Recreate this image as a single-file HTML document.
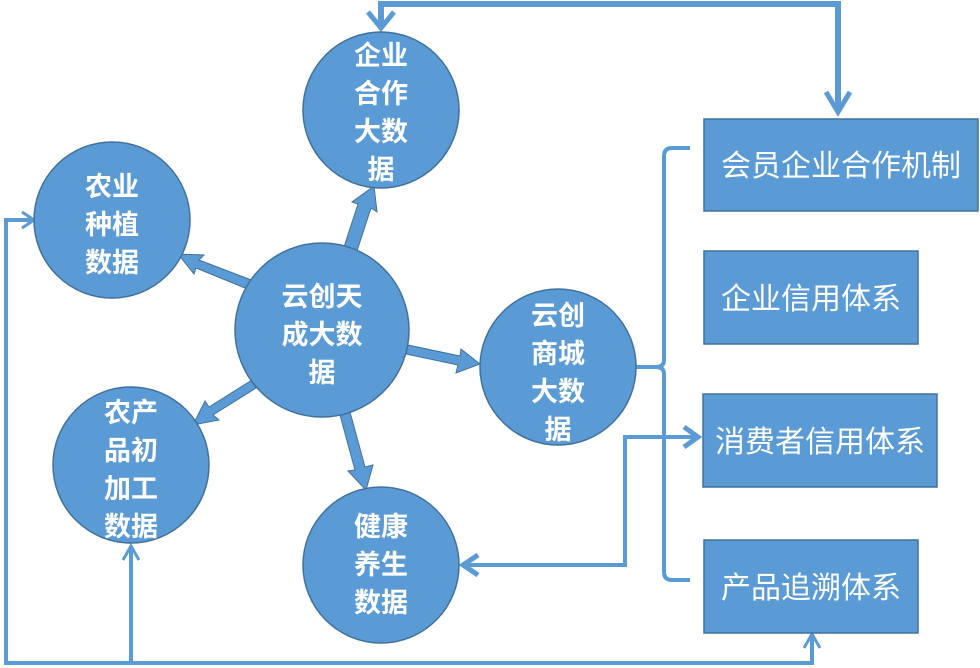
<!DOCTYPE html>
<html><head><meta charset="utf-8"><style>
body{margin:0;background:#fff;}
svg{display:block;}
text{font-family:"Liberation Sans","Noto Sans CJK SC",sans-serif;fill:#fff;}
.c{font-size:27px;font-weight:bold;text-anchor:middle;}
.r{font-size:30px;text-anchor:middle;}
</style></head><body>
<svg width="980" height="668" viewBox="0 0 980 668">
<g fill="none" stroke="#5b9bd5" stroke-width="4" stroke-linejoin="miter">
<polyline points="381,28 381,4 838,4 838,112" stroke-width="6"/>
<polyline points="368,12 381,28 394,12" stroke-width="5"/>
<polyline points="826,92 838,112 850,92" stroke-width="5"/>
<polyline points="34,220 6,220 6,663 812,663 812,636"/>
<polyline points="22,212 34,220 22,228" stroke-width="3"/>
<polyline points="804,648 812,634 820,648" stroke-width="3"/>
<polyline points="131,663 131,546"/>
<polyline points="123,560 131,546 139,560" stroke-width="3"/>
<polyline points="463,565 625,565 625,437 698,437"/>
<polyline points="478,555 463,565 478,575" stroke-width="5"/>
<polyline points="684,427 698,437 684,447" stroke-width="5"/>
<path d="M690,148 L672,148 Q664,148 664,156 L664,360 Q664,367 656,367 L636,367 M656,367 Q664,367 664,374 L664,572 Q664,580 672,580 L690,580"/>
</g>
<g fill="#5b9bd5" stroke="#41719c" stroke-width="1">
<polygon points="343,250 358,204 352,202 374,186 377,212 371,208 356,254"/>
<polygon points="250,290 196,268 194,274 178,254 204,255 199,260 254,281"/>
<polygon points="408,345 460,356 461,349 480,364 456,373 458,365 406,354"/>
<polygon points="252,380 209,407 205,401 193,425 219,420 213,415 256,388"/>
<polygon points="340,415 355,470 348,471 366,490 373,465 365,467 350,412"/>
</g>
<g fill="#5b9bd5" stroke="#41719c" stroke-width="1.5">
<circle cx="381" cy="110" r="78"/>
<circle cx="112" cy="220" r="78"/>
<circle cx="322" cy="330" r="87"/>
<circle cx="558" cy="367" r="78"/>
<circle cx="131" cy="465" r="78"/>
<circle cx="381" cy="565" r="78"/>
<rect x="704" y="119" width="274" height="92"/>
<rect x="704" y="251" width="214" height="93"/>
<rect x="703" y="394" width="234" height="93"/>
<rect x="704" y="540" width="214" height="93"/>
</g>
<text class="c" x="381" y="65">企业</text>
<text class="c" x="381" y="103">合作</text>
<text class="c" x="381" y="141">大数</text>
<text class="c" x="381" y="179">据</text>
<text class="c" x="112" y="196">农业</text>
<text class="c" x="112" y="234">种植</text>
<text class="c" x="112" y="272">数据</text>
<text class="c" x="322" y="306">云创天</text>
<text class="c" x="322" y="344">成大数</text>
<text class="c" x="322" y="382">据</text>
<text class="c" x="558" y="325">云创</text>
<text class="c" x="558" y="363">商城</text>
<text class="c" x="558" y="401">大数</text>
<text class="c" x="558" y="439">据</text>
<text class="c" x="131" y="422">农产</text>
<text class="c" x="131" y="460">品初</text>
<text class="c" x="131" y="498">加工</text>
<text class="c" x="131" y="536">数据</text>
<text class="c" x="381" y="536">健康</text>
<text class="c" x="381" y="574">养生</text>
<text class="c" x="381" y="612">数据</text>
<text class="r" x="841" y="176">会员企业合作机制</text>
<text class="r" x="811" y="309">企业信用体系</text>
<text class="r" x="820" y="452">消费者信用体系</text>
<text class="r" x="811" y="598">产品追溯体系</text>
</svg>
</body></html>
